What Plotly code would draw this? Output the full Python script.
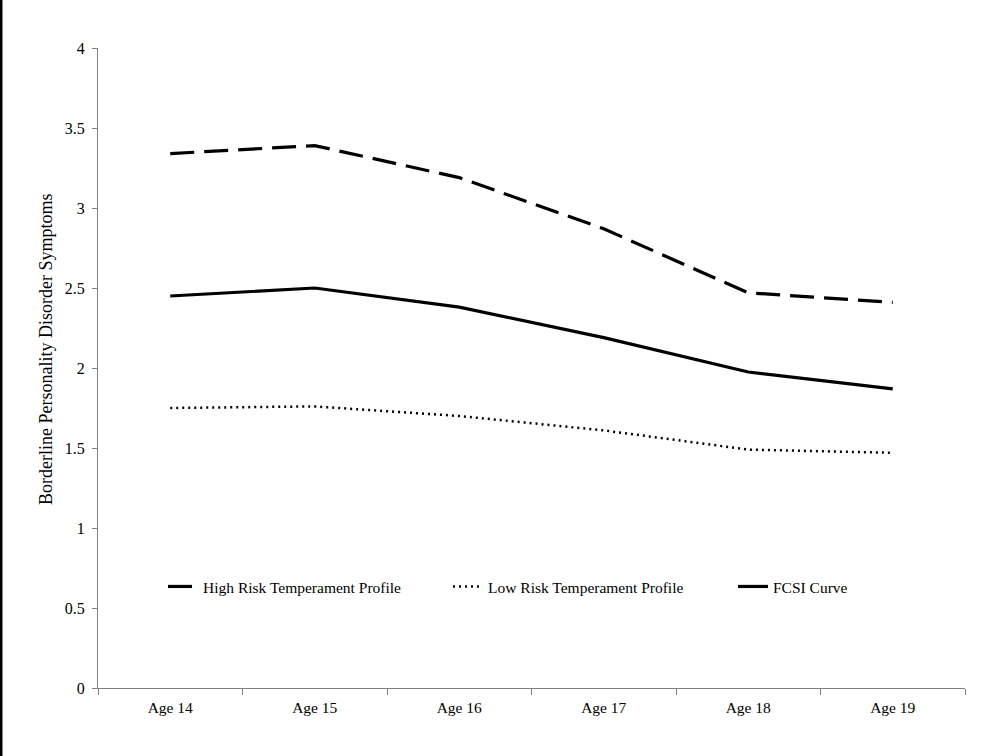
import plotly.graph_objects as go

ages = ["Age 14", "Age 15", "Age 16", "Age 17", "Age 18", "Age 19"]
high_risk = [3.34, 3.39, 3.19, 2.87, 2.47, 2.41]
low_risk = [1.75, 1.76, 1.70, 1.61, 1.49, 1.47]
fcsi = [2.45, 2.50, 2.38, 2.19, 1.975, 1.87]
y_ticks = [0, 0.5, 1, 1.5, 2, 2.5, 3, 3.5, 4]
y_tick_text = ["0", "0.5", "1", "1.5", "2", "2.5", "3", "3.5", "4"]
y_title = "Borderline Personality Disorder Symptoms"

FONT = "Liberation Serif, Times New Roman, serif"

fig = go.Figure()
fig.add_trace(go.Scatter(x=ages, y=high_risk, mode="lines", name="High Risk Temperament Profile",
                         line=dict(color="black", width=3.2, dash="24px,10px"), legend="legend"))
fig.add_trace(go.Scatter(x=ages, y=low_risk, mode="lines", name="Low Risk Temperament Profile",
                         line=dict(color="black", width=2.5, dash="2px,4px"), legend="legend2"))
fig.add_trace(go.Scatter(x=ages, y=fcsi, mode="lines", name="FCSI Curve",
                         line=dict(color="black", width=3.2), legend="legend3"))

def leg(xp):
    return dict(orientation="h", x=xp, y=0.158, xanchor="left", yanchor="middle",
                font=dict(family=FONT, size=15.5, color="black"),
                bgcolor="rgba(0,0,0,0)", itemwidth=30)

fig.update_layout(
    width=1008, height=756,
    margin=dict(l=98, r=43, t=48, b=68),
    paper_bgcolor="white", plot_bgcolor="white",
    font=dict(family=FONT, size=15, color="black"),
    showlegend=True,
    legend=leg((163 - 98) / 867),
    legend2=leg((448 - 98) / 867),
    legend3=leg((733 - 98) / 867),
    xaxis=dict(range=[-0.5, 5.5], showline=True, linecolor="#808080", linewidth=1,
               ticks="outside", tickson="boundaries", ticklen=6, tickcolor="#808080",
               showgrid=False, zeroline=False, tickfont=dict(family=FONT, size=15.5),
               ticklabelstandoff=5),
    yaxis=dict(range=[0, 4], tickvals=y_ticks, ticktext=y_tick_text, showline=True,
               linecolor="#808080", linewidth=1, ticks="outside", ticklen=5,
               tickcolor="#808080", showgrid=False, zeroline=False,
               tickfont=dict(family=FONT, size=16), ticklabelstandoff=4,
               automargin=False),
    annotations=[dict(text=y_title, textangle=-90, xref="paper", yref="paper",
                      x=(46 - 98) / 867, y=(688 - 350) / 640, xanchor="center", yanchor="middle",
                      showarrow=False, font=dict(family=FONT, size=18, color="black"))],
    shapes=[dict(type="line", xref="paper", yref="paper", x0=-0.1119, x1=-0.1119,
                 y0=-0.2, y1=1.2, line=dict(color="black", width=3))],
)

fig.write_html("out.html", post_script="document.body.style.margin='0';",
               config={"displayModeBar": False})
